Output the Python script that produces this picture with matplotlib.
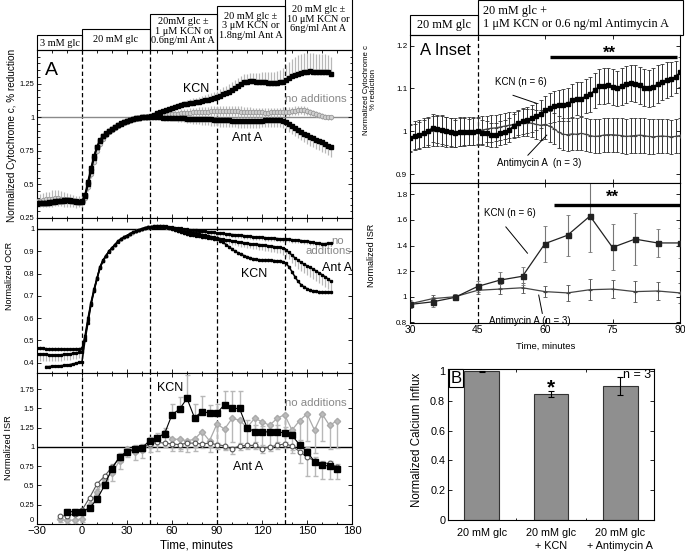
import numpy as np
import matplotlib
matplotlib.use("Agg")
import matplotlib.pyplot as plt
from matplotlib.ticker import MultipleLocator, FuncFormatter, FixedLocator
from matplotlib.patches import Rectangle
from matplotlib.transforms import blended_transform_factory

plt.rcParams['font.family'] = ['Liberation Sans', 'DejaVu Sans']

# ---------------- data ----------------
# Panel A: cytochrome c reduction (sampled every 2 min, -30..166)
t_cyt = np.arange(-30, 168, 2)
cyt_kcn = [0.36, 0.36, 0.365, 0.365, 0.37, 0.37, 0.375, 0.378, 0.38, 0.382, 0.385, 0.385, 0.38, 0.375, 0.372, 0.375,
           0.42, 0.52, 0.62, 0.71, 0.78, 0.83, 0.86, 0.88, 0.9, 0.915, 0.93, 0.943, 0.955, 0.965, 0.973, 0.98,
           0.987, 0.993, 0.997, 1.0, 1.0, 1.002,
           1.01, 1.02, 1.03, 1.04, 1.045, 1.055, 1.06, 1.068, 1.075, 1.08, 1.088, 1.095, 1.1, 1.105, 1.108, 1.11,
           1.115, 1.12, 1.125, 1.13, 1.138, 1.145, 1.15, 1.16, 1.17, 1.18, 1.19, 1.205, 1.22, 1.235, 1.25, 1.26,
           1.265, 1.27, 1.268, 1.263, 1.26, 1.26, 1.26, 1.258, 1.258, 1.255, 1.255, 1.26, 1.265, 1.275, 1.29, 1.305,
           1.315, 1.325, 1.33, 1.335, 1.34, 1.345, 1.34, 1.335, 1.335, 1.34, 1.34, 1.335, 1.325]
cyt_anta = [0.355, 0.358, 0.36, 0.362, 0.365, 0.368, 0.372, 0.375, 0.378, 0.38, 0.382, 0.38, 0.376, 0.372, 0.37, 0.372,
            0.41, 0.5, 0.6, 0.7, 0.775, 0.825, 0.858, 0.878, 0.898, 0.913, 0.928, 0.942, 0.953, 0.963, 0.972, 0.979,
            0.986, 0.992, 0.996, 0.999, 1.0, 1.0,
            1.0, 1.0, 1.0, 0.998, 0.997, 0.997, 0.996, 0.995, 0.995, 0.994, 0.993, 0.992, 0.99, 0.99, 0.989, 0.988,
            0.987, 0.986, 0.985, 0.984, 0.983, 0.982, 0.98, 0.979, 0.978, 0.977, 0.976, 0.975, 0.974, 0.973, 0.972, 0.972,
            0.972, 0.972, 0.972, 0.973, 0.974, 0.975, 0.976, 0.977, 0.978, 0.98, 0.98, 0.98, 0.975, 0.965, 0.95, 0.935,
            0.92, 0.905, 0.89, 0.878, 0.866, 0.853, 0.842, 0.832, 0.822, 0.812, 0.8, 0.788, 0.775]
cyt_noadd = [0.38, 0.38, 0.385, 0.39, 0.39, 0.395, 0.4, 0.4, 0.395, 0.39, 0.385, 0.38, 0.375, 0.37, 0.37, 0.375,
             0.4, 0.48, 0.58, 0.67, 0.75, 0.8, 0.84, 0.87, 0.89, 0.905, 0.92, 0.935, 0.948, 0.958, 0.968, 0.976,
             0.984, 0.99, 0.995, 1.0, 1.003, 1.006,
             1.01, 1.015, 1.018, 1.02, 1.02, 1.02, 1.022, 1.022, 1.025, 1.025, 1.028, 1.03, 1.03, 1.032, 1.035, 1.035,
             1.038, 1.04, 1.04, 1.042, 1.045, 1.045, 1.045, 1.046, 1.047, 1.047, 1.046, 1.045, 1.044, 1.043, 1.042, 1.04,
             1.04, 1.038, 1.036, 1.035, 1.035, 1.035, 1.034, 1.034, 1.035, 1.035, 1.036, 1.038, 1.04, 1.04, 1.042, 1.045,
             1.048, 1.05, 1.052, 1.05, 1.045, 1.038, 1.03, 1.022, 1.015, 1.01, 1.005, 1.0, 0.998]
cyt_noadd_err = [0.045, 0.05, 0.05, 0.055, 0.055, 0.06, 0.06, 0.06, 0.055, 0.055, 0.05, 0.05, 0.045, 0.045, 0.04,
                 0.04, 0.035, 0.03, 0.03, 0.025, 0.025, 0.02, 0.02, 0.02, 0.018, 0.018, 0.018, 0.015, 0.015, 0.015,
                 0.015, 0.015, 0.015, 0.015, 0.015, 0.016, 0.017, 0.018,
                 0.02, 0.02, 0.022, 0.024, 0.026, 0.028, 0.03, 0.03,
                 0.03, 0.032, 0.032, 0.034, 0.034, 0.035, 0.035, 0.036, 0.036, 0.036,
                 0.036, 0.036, 0.036, 0.036, 0.037, 0.037, 0.037, 0.038, 0.038, 0.038,
                 0.038, 0.038, 0.038, 0.038, 0.037, 0.037, 0.036, 0.036, 0.035, 0.035,
                 0.035, 0.034, 0.034, 0.034, 0.033, 0.033, 0.033, 0.032, 0.032, 0.032,
                 0.032, 0.032, 0.03, 0.03, 0.028, 0.026, 0.024, 0.022, 0.02, 0.02,
                 0.02, 0.02, 0.02]
# one-sided errors after the 45 min addition (t = 46..166)
cyt_kcn_err = [0.010, 0.011, 0.012, 0.013, 0.014, 0.015, 0.016, 0.018,
               0.02, 0.022, 0.024, 0.026, 0.028, 0.03, 0.032, 0.034, 0.036, 0.038,
               0.04, 0.042, 0.044, 0.046, 0.048, 0.05, 0.052, 0.055, 0.058, 0.06,
               0.06, 0.06, 0.06, 0.06, 0.058, 0.058, 0.06, 0.065, 0.07, 0.075,
               0.078, 0.08, 0.082, 0.085, 0.087, 0.09, 0.1, 0.11, 0.12, 0.13,
               0.135, 0.14, 0.14, 0.14, 0.138, 0.136, 0.135, 0.135, 0.134, 0.133,
               0.13, 0.128, 0.125]
cyt_anta_err = [0.012, 0.013, 0.014, 0.015, 0.016, 0.018, 0.02, 0.022,
                0.024, 0.026, 0.028, 0.03, 0.032, 0.034, 0.036, 0.038, 0.04, 0.042,
                0.044, 0.045, 0.046, 0.047, 0.048, 0.049, 0.05, 0.05, 0.05, 0.05,
                0.05, 0.051, 0.05, 0.052, 0.05, 0.049, 0.05, 0.051, 0.052, 0.05,
                0.05, 0.05, 0.051, 0.052, 0.053, 0.054, 0.055, 0.056, 0.057, 0.058,
                0.06, 0.06, 0.061, 0.062, 0.063, 0.064, 0.065, 0.066, 0.067, 0.068,
                0.07, 0.071, 0.072]

# Panel A: OCR (every 2 min, -30..166)
t_ocr = np.arange(-30, 168, 2)
ocr_kcn = [0.466, 0.465, 0.464, 0.463, 0.462, 0.462, 0.461, 0.461, 0.461, 0.46, 0.46, 0.46, 0.46, 0.461, 0.462, 0.465,
           0.52, 0.6, 0.67, 0.73, 0.78, 0.83, 0.86, 0.88, 0.9, 0.915, 0.93, 0.945, 0.955, 0.963, 0.97, 0.978,
           0.985, 0.99, 0.995, 1.0, 1.005, 1.008,
           1.01, 1.011, 1.012, 1.012, 1.011, 1.01, 1.006, 1.0, 0.995, 0.99, 0.985, 0.98, 0.977, 0.975, 0.972, 0.97,
           0.968, 0.965, 0.963, 0.961, 0.96, 0.957, 0.953, 0.947, 0.94, 0.93, 0.92, 0.91, 0.9, 0.893, 0.887, 0.88,
           0.875, 0.87, 0.866, 0.863, 0.862, 0.861, 0.86, 0.86, 0.859, 0.858, 0.857, 0.856, 0.853, 0.845, 0.83, 0.808,
           0.785, 0.765, 0.75, 0.74, 0.732, 0.726, 0.722, 0.72, 0.718, 0.717, 0.717, 0.718, 0.718]
ocr_anta = [np.nan, np.nan, np.nan,
            0.383, 0.383, 0.384, 0.385, 0.386, 0.387, 0.388, 0.39, 0.392, 0.395, 0.398, 0.402, 0.405,
            0.5, 0.58, 0.66, 0.72, 0.775, 0.825, 0.855, 0.878, 0.898, 0.913, 0.928, 0.943, 0.953, 0.962, 0.969, 0.977,
            0.984, 0.99, 0.995, 1.0, 1.004, 1.007,
            1.009, 1.01, 1.01, 1.01, 1.009, 1.008, 1.005, 1.002, 0.999, 0.995, 0.991, 0.988, 0.986, 0.984, 0.982, 0.98,
            0.977, 0.975, 0.972, 0.969, 0.966, 0.963, 0.96, 0.957, 0.954, 0.951, 0.949, 0.947, 0.945, 0.942, 0.94, 0.938,
            0.936, 0.934, 0.932, 0.931, 0.93, 0.929, 0.927, 0.925, 0.923, 0.921, 0.919, 0.917, 0.913, 0.905, 0.895, 0.882,
            0.87, 0.86, 0.85, 0.842, 0.835, 0.828, 0.82, 0.812, 0.803, 0.795, 0.786, 0.776, 0.765]
ocr_noadd = [0.44, 0.44, 0.438, 0.437, 0.436, 0.435, 0.435, 0.435, 0.436, 0.437, 0.438, 0.44, 0.442, 0.444, 0.446, 0.45,
             0.51, 0.59, 0.665, 0.725, 0.778, 0.828, 0.858, 0.88, 0.9, 0.915, 0.93, 0.945, 0.955, 0.963, 0.97, 0.978,
             0.985, 0.99, 0.995, 1.0, 1.005, 1.008,
             1.01, 1.012, 1.013, 1.013, 1.012, 1.011, 1.01, 1.008, 1.006, 1.004, 1.002, 1.0, 0.998, 0.996, 0.994, 0.993,
             0.992, 0.99, 0.989, 0.987, 0.985, 0.984, 0.982, 0.981, 0.98, 0.978, 0.976, 0.975, 0.974, 0.972, 0.971, 0.97,
             0.968, 0.967, 0.965, 0.964, 0.963, 0.962, 0.961, 0.96, 0.959, 0.958, 0.957, 0.956, 0.955, 0.954, 0.953, 0.952,
             0.95, 0.949, 0.948, 0.946, 0.945, 0.943, 0.94, 0.937, 0.935, 0.934, 0.934, 0.935, 0.935]
ocr_noadd_err = [0.03, 0.03, 0.03, 0.028, 0.028, 0.028, 0.027, 0.027, 0.027, 0.026, 0.026, 0.026, 0.025, 0.025, 0.025, 0.025,
                 0.012, 0.012, 0.012, 0.012, 0.011, 0.011, 0.011, 0.011, 0.01, 0.01, 0.01, 0.01, 0.01, 0.01, 0.01, 0.01,
                 0.01, 0.01, 0.01, 0.01, 0.01, 0.01,
                 0.01, 0.01, 0.01, 0.01, 0.01, 0.011, 0.011, 0.011, 0.011, 0.011, 0.012, 0.012, 0.012, 0.012, 0.012, 0.012,
                 0.012, 0.012, 0.012, 0.012, 0.012, 0.013, 0.013, 0.013, 0.013, 0.013, 0.013, 0.013, 0.013, 0.013, 0.013, 0.013,
                 0.013, 0.013, 0.013, 0.013, 0.013, 0.013, 0.013, 0.013, 0.013, 0.013, 0.013, 0.013, 0.013, 0.013, 0.013, 0.013,
                 0.013, 0.013, 0.013, 0.013, 0.013, 0.013, 0.013, 0.013, 0.013, 0.013, 0.013, 0.013, 0.013]
ocr_anta_err = [0.005, 0.005, 0.006, 0.006, 0.007, 0.007, 0.008, 0.008,
                0.009, 0.009, 0.01, 0.01, 0.011, 0.011, 0.012, 0.012, 0.013, 0.013,
                0.014, 0.014, 0.015, 0.015, 0.016, 0.016, 0.017, 0.017, 0.018, 0.018,
                0.019, 0.019, 0.02, 0.02, 0.021, 0.021, 0.022, 0.022, 0.023, 0.023,
                0.024, 0.024, 0.025, 0.025, 0.026, 0.027, 0.028, 0.03, 0.032, 0.034,
                0.036, 0.038, 0.039, 0.04, 0.041, 0.042, 0.043, 0.044, 0.045, 0.045,
                0.045, 0.045, 0.045]

# Panel A: ISR (every 5 min, -15..170)
t_isr = np.arange(-15, 175, 5)
isr_kcn = [np.nan, 0.16, 0.16, 0.16, 0.21, 0.32, 0.50, 0.72, 0.87, 0.94, 0.97, 0.99, 1.08, 1.12, 1.17, 1.42, 1.49,
           1.63, 1.38, 1.46, 1.44, 1.44, 1.55, 1.50, 1.50, 1.25, 1.20, 1.19, 1.20, 1.20, 1.18, 1.15, 1.03, 0.94,
           0.81, 0.76, 0.755, 0.72]
isr_kcn_err = [np.nan, 0.03, 0.03, 0.03, 0.04, 0.05, 0.06, 0.06, 0.05, 0.05, 0.05, 0.05, 0.05, 0.06, 0.07, 0.14,
               0.16, 0.3, 0.18, 0.2, 0.11, 0.12, 0.18, 0.22, 0.22, 0.1, 0.08, 0.08, 0.08, 0.08, 0.08, 0.08, 0.06,
               0.06, 0.06, 0.06, 0.06, 0.06]
isr_anta = [0.10, 0.11, 0.13, 0.18, 0.34, 0.52, 0.62, 0.74, 0.86, 0.95, 0.97, 0.99, 1.04, 1.06, 1.05, 1.04, 1.03,
            1.05, 1.05, 1.04, 1.05, 1.03, 1.015, 0.97, 1.015, 1.02, 1.02, 0.98, 1.0, 1.02, 1.04, 1.015, 0.94, 0.87,
            0.82, 0.785, 0.79, 0.74]
isr_anta_err = [0.03, 0.03, 0.03, 0.04, 0.05, 0.06, 0.06, 0.06, 0.06, 0.05, 0.05, 0.05, 0.05, 0.05, 0.05, 0.05,
                0.06, 0.06, 0.05, 0.05, 0.05, 0.05, 0.05, 0.06, 0.05, 0.05, 0.05, 0.06, 0.05, 0.05, 0.05, 0.06,
                0.15, 0.25, 0.2, 0.2, 0.2, 0.15]
isr_noadd = [0.06, 0.05, 0.05, 0.07, 0.25, 0.42, 0.58, 0.66, 0.82, 0.97, 0.93, 0.96, 1.03, 1.1, 1.2, 1.1, 1.1,
             1.08, 1.1, 1.2, 1.08, 1.3, 1.23, 1.37, 1.35, 1.25, 1.37, 1.33, 1.28, 1.37, 1.42, 1.22, 1.34, 1.43,
             1.22, 1.43, 1.28, 1.34]
isr_noadd_err = [0.04, 0.04, 0.04, 0.05, 0.06, 0.08, 0.1, 0.1, 0.1, 0.1, 0.1, 0.1, 0.1, 0.15, 0.15, 0.15, 0.15,
                 0.15, 0.15, 0.15, 0.15, 0.25, 0.25, 0.3, 0.3, 0.25, 0.3, 0.3, 0.3, 0.3, 0.35, 0.3, 0.3, 0.35,
                 0.3, 0.35, 0.3, 0.35]

# A Inset: cytochrome c (every 1 min, 30..90)
t_icyt = np.arange(30, 91, 1)
icyt_kcn = [0.984, 0.988, 0.991, 0.995, 1.001, 1.008, 1.006, 1.004, 1.0, 0.998, 0.995, 0.998, 0.998, 0.998, 0.999,
            1.0, 0.997, 0.995, 0.991, 0.991, 0.996, 0.998, 1.004, 1.012, 1.019, 1.024, 1.026, 1.03, 1.035, 1.041,
            1.049, 1.055, 1.058, 1.061, 1.062, 1.063, 1.072, 1.076, 1.076, 1.082, 1.086, 1.096, 1.105, 1.106, 1.107,
            1.104, 1.1, 1.105, 1.11, 1.113, 1.111, 1.107, 1.102, 1.1, 1.104, 1.11, 1.115, 1.119, 1.123, 1.127, 1.139]
icyt_kcn_err = [0.03, 0.03, 0.031, 0.032, 0.032, 0.032, 0.033, 0.033, 0.033, 0.033, 0.032, 0.032, 0.032, 0.031, 0.031,
                0.03, 0.03, 0.03, 0.029, 0.029, 0.029, 0.028, 0.028, 0.028, 0.028, 0.03, 0.03, 0.031, 0.032, 0.033,
                0.034, 0.035, 0.036, 0.036, 0.037, 0.038, 0.038, 0.039, 0.04, 0.04, 0.04, 0.041, 0.041, 0.042, 0.042,
                0.042, 0.042, 0.043, 0.043, 0.043, 0.043, 0.043, 0.044, 0.044, 0.044, 0.044, 0.043, 0.042, 0.04, 0.038, 0.035]
icyt_anta = [0.985, 0.99, 0.993, 0.996, 0.998, 1.0, 1.001, 1.0, 0.999, 0.998, 0.998, 0.999, 1.0, 1.0, 1.0,
             1.001, 1.003, 1.005, 1.007, 1.008, 1.01, 1.012, 1.014, 1.016, 1.018, 1.02, 1.02, 1.019, 1.016, 1.014,
             1.016, 1.012, 1.006, 0.998, 0.993, 0.992, 0.994, 0.993, 0.995, 0.993, 0.99, 0.988, 0.989, 0.991, 0.992,
             0.992, 0.991, 0.99, 0.988, 0.989, 0.99, 0.991, 0.99, 0.988, 0.987, 0.988, 0.989, 0.988, 0.987, 0.988, 0.99]
icyt_anta_err = [0.033, 0.033, 0.034, 0.034, 0.034, 0.035, 0.035, 0.035, 0.035, 0.034, 0.034, 0.034, 0.033, 0.033, 0.033,
                 0.032, 0.032, 0.031, 0.031, 0.03, 0.03, 0.03, 0.03, 0.03, 0.031, 0.031, 0.032, 0.033, 0.034, 0.035,
                 0.035, 0.036, 0.036, 0.037, 0.037, 0.038, 0.038, 0.038, 0.039, 0.039, 0.039, 0.04, 0.04, 0.04, 0.04,
                 0.04, 0.04, 0.04, 0.041, 0.041, 0.041, 0.041, 0.041, 0.041, 0.041, 0.04, 0.04, 0.04, 0.04, 0.04, 0.04]

# A Inset: ISR (every 5 min, 30..90)
t_iisr = np.arange(30, 95, 5)
iisr_kcn = [0.94, 0.96, 0.995, 1.08, 1.13, 1.16, 1.415, 1.48, 1.63, 1.385, 1.45, 1.42, 1.42]
iisr_kcn_err = [0.03, 0.04, 0.02, 0.045, 0.06, 0.07, 0.14, 0.16, 0.28, 0.18, 0.2, 0.11, 0.12]
iisr_anta = [0.945, 0.985, 1.0, 1.05, 1.06, 1.07, 1.04, 1.03, 1.055, 1.06, 1.04, 1.045, 1.03]
iisr_anta_err = [0.03, 0.03, 0.02, 0.03, 0.04, 0.04, 0.04, 0.06, 0.08, 0.07, 0.08, 0.07, 0.08]

# Panel B: calcium influx
b_labels = ["20 mM glc", "20 mM glc\n+ KCN", "20 mM glc\n+ Antimycin A"]
b_values = [1.0, 0.845, 0.90]
b_errors = [0.004, 0.02, 0.06]

# experimental phases
phase_edges = [-30, 0, 45, 90, 135, 180]
phase_labels = ["3 mM glc", "20 mM glc", "20mM glc \u00b1\n1 \u03bcM KCN or\n0.6ng/ml Ant A",
                "20 mM glc \u00b1\n3 \u03bcM KCN or\n1.8ng/ml Ant A", "20 mM glc \u00b1\n10 \u03bcM KCN or\n6ng/ml Ant A"]
additions = [0, 45, 90, 135]
inset_edges = [30, 45, 90.6]
inset_labels = ["20 mM glc", "20 mM glc +\n1 \u03bcM KCN or 0.6 ng/ml Antimycin A"]

# ---------------- figure ----------------
W, H = 685, 554
fig = plt.figure(figsize=(W / 100, H / 100), dpi=100)


def rect(l, t, r, b):
    return [l / W, 1 - b / H, (r - l) / W, (b - t) / H]


def fy(y):
    return 1 - y / H


GRAY = '#9a9a9a'
EGRAY = '#b8b8b8'
DASH = (0, (3.5, 2.2))
gfmt = FuncFormatter(lambda v, p: '%g' % round(v, 3))


def base_style(ax, ylsize=5.5, xlsize=8.0):
    for s in ax.spines.values():
        s.set_linewidth(0.8)
    ax.tick_params(which='both', direction='in', top=True, right=True, width=0.6, pad=2)
    ax.tick_params(which='major', length=3.0)
    ax.tick_params(which='minor', length=1.8)
    ax.tick_params(axis='y', labelsize=ylsize)
    ax.tick_params(axis='x', labelsize=xlsize, pad=1.2)
    ax.yaxis.set_major_formatter(gfmt)


ax1 = fig.add_axes(rect(37, 50, 352, 218))
ax2 = fig.add_axes(rect(37, 218, 352, 373))
ax3 = fig.add_axes(rect(37, 373, 352, 524))
ax4 = fig.add_axes(rect(410, 35, 680, 183))
ax5 = fig.add_axes(rect(410, 183, 680, 323))
ax6 = fig.add_axes(rect(448, 369, 654, 520))

for ax in (ax1, ax2, ax3):
    base_style(ax)
    ax.set_xlim(-30, 180)
    ax.xaxis.set_major_locator(MultipleLocator(30))
    ax.xaxis.set_minor_locator(MultipleLocator(10))
    for a in additions:
        ax.axvline(a, color='black', lw=0.9, ls=DASH, zorder=1)
ax1.tick_params(axis='x', labelbottom=False)
ax2.tick_params(axis='x', labelbottom=False)

# --- cytochrome c panel ---
late = slice(38, None)
ax1.axhline(1.0, color='#8a8a8a', lw=1.0, zorder=1)
ax1.errorbar(t_cyt, cyt_noadd, yerr=cyt_noadd_err, fmt='none', ecolor=EGRAY, elinewidth=0.9, zorder=2)
ax1.errorbar(t_cyt[late], np.array(cyt_kcn)[late], yerr=[np.zeros(61), cyt_kcn_err], fmt='none',
             ecolor=EGRAY, elinewidth=0.9, zorder=2)
ax1.errorbar(t_cyt[late], np.array(cyt_anta)[late], yerr=[cyt_anta_err, np.zeros(61)], fmt='none',
             ecolor=EGRAY, elinewidth=0.9, zorder=2)
ax1.plot(t_cyt, cyt_noadd, color=GRAY, lw=1.0, marker='o', ms=3.2, mfc='#d0d0d0', mec=GRAY, mew=0.6, zorder=3)
ax1.plot(t_cyt, cyt_kcn, color='black', lw=1.3, marker='s', ms=2.4, zorder=4)
ax1.plot(t_cyt, cyt_anta, color='black', lw=1.3, marker='s', ms=2.4, zorder=4)
ax1.set_ylim(0.25, 1.5)
ax1.set_yticks([0.25, 0.5, 0.75, 1.0, 1.25])
ax1.yaxis.set_minor_locator(MultipleLocator(0.05))
ax1.text(-24.7, 1.351, 'A', fontsize=14, ha='left', va='center')
ax1.text(76, 1.21, 'KCN', fontsize=9, ha='center', va='center')
ax1.text(135.3, 1.135, 'no additions', fontsize=8.2, color='#888888', ha='left', va='center')
ax1.text(110, 0.845, 'Ant A', fontsize=9, ha='center', va='center')

# --- OCR panel ---
ax2.axhline(1.0, color='black', lw=1.0, zorder=1)
ax2.errorbar(t_ocr, ocr_noadd, yerr=[ocr_noadd_err, np.zeros(99)], fmt='none', ecolor=EGRAY, elinewidth=0.9, zorder=2)
ax2.errorbar(t_ocr[late], np.array(ocr_anta)[late], yerr=[ocr_anta_err, np.zeros(61)], fmt='none',
             ecolor=EGRAY, elinewidth=0.9, zorder=2)
ax2.errorbar(t_ocr, ocr_kcn, yerr=0.008, fmt='none', ecolor=EGRAY, elinewidth=0.9, zorder=2)
for series in (ocr_noadd, ocr_anta, ocr_kcn):
    ax2.plot(t_ocr, series, color='black', lw=1.1, marker='s', ms=1.4, zorder=4)
ax2.set_ylim(0.354, 1.049)
ax2.set_yticks([0.4, 0.5, 0.6, 0.7, 0.8, 0.9, 1.0])
ax2.text(114.7, 0.80, 'KCN', fontsize=9, ha='center', va='center')
ax2.text(170.7, 0.946, 'no', fontsize=8.2, color='#888888', ha='center', va='center')
ax2.text(164, 0.90, 'additions', fontsize=8.2, color='#888888', ha='center', va='center')
ax2.text(160, 0.825, 'Ant A', fontsize=9, ha='left', va='center')

# --- ISR panel ---
ax3.axhline(1.0, color='black', lw=1.0, zorder=1)
ax3.errorbar(t_isr, isr_noadd, yerr=[isr_noadd_err, np.zeros(len(t_isr))], fmt='none', ecolor=EGRAY,
             elinewidth=1.0, capsize=1.8, zorder=2)
ax3.errorbar(t_isr, isr_kcn, yerr=[np.zeros(len(t_isr)), isr_kcn_err], fmt='none', ecolor=EGRAY,
             elinewidth=1.0, capsize=1.8, zorder=2)
ax3.errorbar(t_isr, isr_anta, yerr=[isr_anta_err, np.zeros(len(t_isr))], fmt='none', ecolor=EGRAY,
             elinewidth=1.0, capsize=1.8, zorder=2)
ax3.plot(t_isr, isr_noadd, color='#aaaaaa', lw=0.9, marker='D', ms=3.2, mfc='#bbbbbb', mec='#aaaaaa', zorder=3)
ax3.plot(t_isr, isr_anta, color='#555555', lw=0.8, marker='o', ms=3.4, mfc='white', mec='#555555', mew=0.8, zorder=4)
ax3.plot(t_isr, isr_kcn, color='black', lw=0.8, marker='s', ms=4.2, zorder=5)
ax3.set_ylim(0, 1.96)
ax3.set_yticks([0, 0.25, 0.5, 0.75, 1.0, 1.25, 1.5, 1.75])
ax3.text(58.7, 1.76, 'KCN', fontsize=9, ha='center', va='center')
ax3.text(135.3, 1.57, 'no additions', fontsize=8.2, color='#888888', ha='left', va='center')
ax3.text(110.7, 0.74, 'Ant A', fontsize=9, ha='center', va='center')

# --- headers for panel A ---
trA = blended_transform_factory(ax1.transData, fig.transFigure)
box_tops = [35, 29, 14, 6, -2]
text_y = [43, 40, 31, 26, 19]
for i, lab in enumerate(phase_labels):
    x0, x1 = phase_edges[i], phase_edges[i + 1]
    fig.add_artist(Rectangle((x0, fy(50)), x1 - x0, fy(box_tops[i]) - fy(50), transform=trA,
                             fill=False, lw=0.8, ec='black', clip_on=False))
    fig.text((x0 + x1) / 2, fy(text_y[i]), lab, transform=trA, ha='center', va='center',
             fontsize=7.4, family='Liberation Serif', linespacing=1.05)

# --- inset cytochrome c ---
for ax in (ax4, ax5):
    base_style(ax, ylsize=5.8, xlsize=7.5)
    ax.set_xlim(30, 90)
    ax.xaxis.set_major_locator(MultipleLocator(15))
    ax.axvline(45, color='black', lw=0.9, ls=DASH, zorder=1)
ax4.tick_params(axis='x', labelbottom=False)
ax4.errorbar(t_icyt, icyt_anta, yerr=icyt_anta_err, fmt='none', ecolor='#333333', elinewidth=0.7,
             capsize=1.3, capthick=0.6, zorder=2)
ax4.errorbar(t_icyt, icyt_kcn, yerr=icyt_kcn_err, fmt='none', ecolor='#333333', elinewidth=0.7,
             capsize=1.3, capthick=0.6, zorder=2)
ax4.plot(t_icyt, icyt_anta, color='#444444', lw=0.8, marker='+', ms=2.5, mew=0.8, zorder=3)
ax4.plot(t_icyt, icyt_kcn, color='black', lw=0.8, marker='s', ms=2.6, zorder=4)
ax4.set_ylim(0.879, 1.225)
ax4.set_yticks([0.9, 1.0, 1.1, 1.2])
ax4.text(32.2, 1.189, 'A Inset', fontsize=12, ha='left', va='center')
ax4.text(48.9, 1.114, 'KCN (n = 6)', fontsize=7, ha='left', va='center')
ax4.plot([52.9, 58.2], [1.084, 1.065], color='black', lw=0.7)
ax4.text(49.3, 0.925, 'Antimycin A  (n = 3)', fontsize=7, ha='left', va='center')
ax4.plot([56.2, 60.4], [0.944, 0.991], color='black', lw=0.7)
ax4.plot([61.1, 89.3], [1.174, 1.174], color='black', lw=2.4, solid_capstyle='butt')
ax4.text(74.4, 1.183, '**', fontsize=12, fontweight='bold', ha='center', va='center')

trI = blended_transform_factory(ax4.transData, fig.transFigure)
in_tops = [15, 0]
for i, lab in enumerate(inset_labels):
    x0, x1 = inset_edges[i], inset_edges[i + 1]
    fig.add_artist(Rectangle((x0, fy(35)), x1 - x0, fy(in_tops[i]) - fy(35), transform=trI,
                             fill=False, lw=0.8, ec='black', clip_on=False))
fig.text((inset_edges[0] + inset_edges[1]) / 2, fy(25), inset_labels[0], transform=trI, ha='center',
         va='center', fontsize=8.8, family='Liberation Serif')
fig.text(inset_edges[1] + 1.3, fy(17.5), inset_labels[1], transform=trI, ha='left',
         va='center', fontsize=8.8, family='Liberation Serif', linespacing=1.15)

# --- inset ISR ---
ax5.errorbar(t_iisr, iisr_anta, yerr=iisr_anta_err, fmt='none', ecolor='#555555', elinewidth=0.7,
             capsize=1.5, capthick=0.6, zorder=2)
ax5.errorbar(t_iisr, iisr_kcn, yerr=iisr_kcn_err, fmt='none', ecolor='#777777', elinewidth=0.8,
             capsize=1.5, capthick=0.6, zorder=2)
ax5.plot(t_iisr, iisr_anta, color='#444444', lw=0.9, marker='+', ms=3, mew=0.8, zorder=3)
ax5.plot(t_iisr, iisr_kcn, color='#222222', lw=0.9, marker='s', ms=3.6, zorder=4)
ax5.set_ylim(0.795, 1.888)
ax5.set_yticks([0.8, 1.0, 1.2, 1.4, 1.6, 1.8])
ax5.yaxis.set_major_formatter(FuncFormatter(lambda v, p: '%g' % round(v, 2) if abs(v - 1) > 1e-6 else '1'))
ax5.text(46.4, 1.654, 'KCN (n = 6)', fontsize=7, ha='left', va='center')
ax5.plot([51.3, 56.1], [1.545, 1.34], color='black', lw=0.7)
ax5.text(47.5, 0.81, 'Antimycin A (n = 3)', fontsize=7, ha='left', va='center')
ax5.plot([58.6, 59.4], [1.013, 0.87], color='black', lw=0.7)
ax5.plot([61.9, 90], [1.716, 1.716], color='black', lw=2.4, solid_capstyle='butt')
ax5.text(74.9, 1.775, '**', fontsize=12, fontweight='bold', ha='center', va='center')

# --- panel B ---
base_style(ax6, ylsize=7.8, xlsize=7.8)
xb = np.arange(len(b_values))
ax6.bar(xb, b_values, width=0.5, color='#8f8f8f', edgecolor='#333333', linewidth=0.8,
        yerr=b_errors, capsize=2, error_kw=dict(elinewidth=0.8, ecolor='black', capthick=0.8))
ax6.set_xlim(-0.486, 2.486)
ax6.set_ylim(0, 1.015)
ax6.set_yticks([0, 0.2, 0.4, 0.6, 0.8, 1.0])
ax6.set_xticks(xb)
ax6.set_xticklabels(b_labels, linespacing=1.35)
ax6.tick_params(axis='x', which='major', length=0, pad=6)
ax6.xaxis.set_minor_locator(FixedLocator([0.5, 1.5]))
ax6.text(0.012, 0.99, 'B', transform=ax6.transAxes, fontsize=12, ha='left', va='top',
         bbox=dict(boxstyle='square,pad=0.1', fc='white', ec='black', lw=0.8))
ax6.text(0.985, 1.0, 'n = 3', transform=ax6.transAxes, fontsize=9, ha='right', va='top')
ax6.text(1, 0.89, '*', fontsize=15, fontweight='bold', ha='center', va='center')

# --- axis titles ---
fig.text(12 / W, fy(135), 'Normalized Cytochrome c, % reduction', rotation=90, ha='center', va='center', fontsize=7.2)
fig.text(10 / W, fy(276), 'Normalized OCR', rotation=90, ha='center', va='center', fontsize=6.5)
fig.text(9 / W, fy(448), 'Normalized ISR', rotation=90, ha='center', va='center', fontsize=6.7)
fig.text(196 / W, fy(546), 'Time, minutes', ha='center', va='center', fontsize=8.4)
fig.text(370 / W, fy(90), 'Normalized Cytochrome c\n% reduction', rotation=90, ha='center', va='center',
         fontsize=5.6, linespacing=1.15)
fig.text(372 / W, fy(255), 'Normalized ISR', rotation=90, ha='center', va='center', fontsize=6.5)
fig.text(546 / W, fy(346), 'Time, minutes', ha='center', va='center', fontsize=6.8)
fig.text(417 / W, fy(440), 'Normalized Calcium Influx', rotation=90, ha='center', va='center', fontsize=8.3)

# keep the ISR "0" tick label clear of the "-30" time label
fig.canvas.draw()
ax3.get_yticklabels()[0].set_va('bottom')

fig.savefig('out.png', dpi=100)
